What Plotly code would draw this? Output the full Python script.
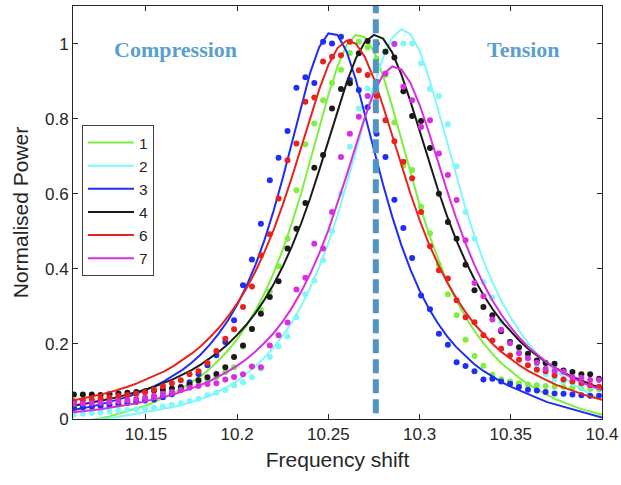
import plotly.graph_objects as go

# ---------------- data ----------------
freq_fit = [10.110, 10.115, 10.120, 10.125, 10.130, 10.135, 10.140, 10.145, 10.150, 10.155,
            10.160, 10.165, 10.170, 10.175, 10.180, 10.185, 10.190, 10.195, 10.200, 10.205,
            10.210, 10.215, 10.220, 10.225, 10.230, 10.235, 10.240, 10.245, 10.250, 10.255,
            10.260, 10.265, 10.270, 10.275, 10.280, 10.285, 10.290, 10.295, 10.300, 10.305,
            10.310, 10.315, 10.320, 10.325, 10.330, 10.335, 10.340, 10.345, 10.350, 10.355,
            10.360, 10.365, 10.370, 10.375, 10.380, 10.385, 10.390, 10.395, 10.400]

freq_data = [10.1105, 10.1154, 10.1203, 10.1251, 10.1300, 10.1349, 10.1398, 10.1447, 10.1495, 10.1544,
             10.1593, 10.1642, 10.1691, 10.1739, 10.1788, 10.1837, 10.1886, 10.1935, 10.1983, 10.2032,
             10.2081, 10.2130, 10.2179, 10.2227, 10.2276, 10.2325, 10.2374, 10.2423, 10.2471, 10.2520,
             10.2569, 10.2618, 10.2667, 10.2715, 10.2764, 10.2813, 10.2862, 10.2911, 10.2959, 10.3008,
             10.3057, 10.3106, 10.3155, 10.3203, 10.3252, 10.3301, 10.3350, 10.3399, 10.3447, 10.3496,
             10.3545, 10.3594, 10.3643, 10.3691, 10.3740, 10.3789, 10.3838, 10.3887, 10.3935, 10.3984]

fit_1 = [-0.012, -0.008, -0.003, 0.002, 0.007, 0.014, 0.020, 0.028, 0.036, 0.046,
         0.056, 0.068, 0.082, 0.097, 0.114, 0.134, 0.157, 0.183, 0.213, 0.248,
         0.288, 0.335, 0.389, 0.451, 0.522, 0.600, 0.686, 0.776, 0.863, 0.939,
         0.996, 1.023, 1.017, 0.978, 0.914, 0.832, 0.743, 0.655, 0.571, 0.495,
         0.428, 0.368, 0.317, 0.273, 0.235, 0.202, 0.173, 0.148, 0.127, 0.108,
         0.091, 0.077, 0.064, 0.052, 0.042, 0.033, 0.025, 0.018, 0.011]
data_1 = [0.030, 0.031, 0.032, 0.034, 0.036, 0.038, 0.041, 0.045, 0.050, 0.056,
          0.063, 0.070, 0.078, 0.087, 0.097, 0.104, 0.111, 0.125, 0.138, 0.193,
          0.240, 0.291, 0.340, 0.407, 0.480, 0.609, 0.732, 0.787, 0.849, 0.895,
          0.930, 0.975, 1.005, 0.990, 0.960, 0.916, 0.790, 0.676, 0.663, 0.565,
          0.495, 0.410, 0.332, 0.276, 0.211, 0.168, 0.142, 0.118, 0.106, 0.100,
          0.095, 0.092, 0.090, 0.088, 0.086, 0.085, 0.083, 0.082, 0.080, 0.079]

fit_2 = [-0.010, -0.007, -0.004, 0.000, 0.003, 0.006, 0.010, 0.014, 0.018, 0.022,
         0.027, 0.032, 0.038, 0.045, 0.053, 0.062, 0.073, 0.086, 0.102, 0.120,
         0.140, 0.164, 0.191, 0.222, 0.258, 0.300, 0.349, 0.405, 0.469, 0.542,
         0.624, 0.711, 0.802, 0.889, 0.963, 1.016, 1.038, 1.025, 0.981, 0.911,
         0.827, 0.737, 0.648, 0.564, 0.489, 0.422, 0.364, 0.313, 0.270, 0.232,
         0.199, 0.171, 0.147, 0.126, 0.107, 0.090, 0.076, 0.063, 0.052]
data_2 = [0.012, 0.014, 0.016, 0.018, 0.020, 0.022, 0.024, 0.026, 0.028, 0.030,
          0.033, 0.037, 0.042, 0.048, 0.054, 0.063, 0.070, 0.077, 0.089, 0.098,
          0.111, 0.134, 0.165, 0.193, 0.220, 0.271, 0.332, 0.369, 0.423, 0.500,
          0.600, 0.725, 0.827, 0.880, 0.930, 0.980, 1.000, 1.000, 1.000, 0.947,
          0.879, 0.860, 0.785, 0.673, 0.551, 0.480, 0.365, 0.323, 0.260, 0.205,
          0.180, 0.165, 0.140, 0.120, 0.105, 0.100, 0.095, 0.090, 0.087, 0.085]

fit_3 = [0.024, 0.028, 0.033, 0.039, 0.045, 0.052, 0.059, 0.068, 0.077, 0.088,
         0.101, 0.115, 0.131, 0.150, 0.172, 0.198, 0.228, 0.263, 0.304, 0.353,
         0.410, 0.477, 0.555, 0.642, 0.737, 0.833, 0.922, 0.991, 1.027, 1.023,
         0.979, 0.905, 0.814, 0.717, 0.624, 0.539, 0.463, 0.398, 0.342, 0.295,
         0.255, 0.221, 0.192, 0.168, 0.146, 0.128, 0.112, 0.098, 0.086, 0.075,
         0.064, 0.055, 0.045, 0.038, 0.031, 0.024, 0.017, 0.010, 0.004]
data_3 = [0.030, 0.031, 0.033, 0.035, 0.037, 0.040, 0.043, 0.046, 0.049, 0.052,
          0.058, 0.066, 0.078, 0.098, 0.120, 0.143, 0.170, 0.205, 0.263, 0.356,
          0.425, 0.520, 0.636, 0.696, 0.767, 0.882, 0.910, 0.895, 1.005, 1.000,
          1.018, 0.903, 0.876, 0.830, 0.760, 0.698, 0.584, 0.509, 0.429, 0.329,
          0.292, 0.227, 0.198, 0.151, 0.141, 0.127, 0.105, 0.107, 0.100, 0.094,
          0.085, 0.078, 0.076, 0.072, 0.068, 0.067, 0.065, 0.063, 0.062, 0.062]

fit_4 = [0.036, 0.039, 0.044, 0.048, 0.053, 0.059, 0.065, 0.071, 0.079, 0.087,
         0.096, 0.106, 0.118, 0.130, 0.145, 0.161, 0.179, 0.200, 0.224, 0.251,
         0.282, 0.318, 0.359, 0.406, 0.460, 0.520, 0.588, 0.663, 0.741, 0.821,
         0.896, 0.960, 1.004, 1.023, 1.013, 0.976, 0.918, 0.846, 0.767, 0.688,
         0.612, 0.541, 0.478, 0.422, 0.373, 0.330, 0.293, 0.260, 0.232, 0.207,
         0.185, 0.166, 0.149, 0.135, 0.121, 0.110, 0.099, 0.090, 0.081]
data_4 = [0.065, 0.065, 0.065, 0.064, 0.066, 0.068, 0.070, 0.072, 0.074, 0.076,
          0.078, 0.081, 0.085, 0.092, 0.103, 0.111, 0.120, 0.138, 0.165, 0.196,
          0.240, 0.280, 0.325, 0.367, 0.454, 0.507, 0.575, 0.669, 0.703, 0.827,
          0.879, 0.894, 0.974, 1.007, 1.000, 0.978, 0.963, 0.873, 0.807, 0.794,
          0.722, 0.600, 0.525, 0.480, 0.411, 0.343, 0.298, 0.276, 0.234, 0.205,
          0.191, 0.174, 0.156, 0.149, 0.147, 0.129, 0.125, 0.119, 0.119, 0.107]

fit_6 = [0.049, 0.054, 0.059, 0.065, 0.071, 0.078, 0.086, 0.095, 0.105, 0.115,
         0.127, 0.141, 0.157, 0.174, 0.194, 0.217, 0.243, 0.273, 0.308, 0.347,
         0.393, 0.445, 0.504, 0.571, 0.644, 0.723, 0.802, 0.878, 0.943, 0.988,
         1.008, 1.000, 0.964, 0.906, 0.833, 0.755, 0.675, 0.600, 0.530, 0.468,
         0.413, 0.365, 0.323, 0.286, 0.253, 0.225, 0.200, 0.178, 0.159, 0.142,
         0.127, 0.114, 0.102, 0.091, 0.082, 0.073, 0.065, 0.058, 0.051]
data_6 = [0.047, 0.050, 0.052, 0.055, 0.058, 0.061, 0.064, 0.067, 0.071, 0.078,
          0.087, 0.095, 0.103, 0.119, 0.127, 0.149, 0.181, 0.214, 0.239, 0.298,
          0.353, 0.436, 0.492, 0.587, 0.689, 0.734, 0.845, 0.856, 0.952, 0.965,
          0.969, 1.005, 0.929, 0.916, 0.860, 0.796, 0.740, 0.685, 0.641, 0.551,
          0.460, 0.396, 0.374, 0.316, 0.271, 0.258, 0.223, 0.209, 0.187, 0.169,
          0.158, 0.143, 0.131, 0.127, 0.116, 0.105, 0.100, 0.095, 0.090, 0.086]

fit_7 = [0.018, 0.020, 0.023, 0.026, 0.030, 0.033, 0.038, 0.042, 0.047, 0.053,
         0.059, 0.065, 0.073, 0.081, 0.091, 0.101, 0.113, 0.127, 0.142, 0.159,
         0.180, 0.203, 0.229, 0.260, 0.296, 0.338, 0.386, 0.441, 0.503, 0.573,
         0.649, 0.727, 0.803, 0.870, 0.917, 0.939, 0.931, 0.895, 0.837, 0.765,
         0.686, 0.609, 0.536, 0.470, 0.411, 0.360, 0.315, 0.277, 0.244, 0.215,
         0.190, 0.169, 0.150, 0.134, 0.119, 0.107, 0.095, 0.086, 0.077]
data_7 = [0.040, 0.041, 0.042, 0.043, 0.045, 0.047, 0.050, 0.053, 0.057, 0.062,
          0.067, 0.072, 0.077, 0.083, 0.088, 0.093, 0.095, 0.105, 0.112, 0.119,
          0.140, 0.138, 0.196, 0.223, 0.257, 0.345, 0.376, 0.467, 0.454, 0.551,
          0.698, 0.760, 0.805, 0.860, 0.898, 0.920, 0.999, 0.885, 0.849, 0.778,
          0.796, 0.707, 0.650, 0.583, 0.476, 0.362, 0.327, 0.265, 0.238, 0.202,
          0.175, 0.162, 0.150, 0.134, 0.128, 0.126, 0.111, 0.110, 0.104, 0.104]

series_names = ["1", "2", "3", "4", "6", "7"]
series_colors = ["#7cf03c", "#80f8f8", "#1f2df5", "#1a1a1a", "#e8231f", "#d82ee0"]
series_fits = [fit_1, fit_2, fit_3, fit_4, fit_6, fit_7]
series_data = [data_1, data_2, data_3, data_4, data_6, data_7]

boundary_freq = 10.276
x_tick_vals = [10.15, 10.2, 10.25, 10.3, 10.35, 10.4]
x_tick_text = ["10.15", "10.2", "10.25", "10.3", "10.35", "10.4"]
y_tick_vals = [0, 0.2, 0.4, 0.6, 0.8, 1]
y_tick_text = ["0", "0.2", "0.4", "0.6", "0.8", "1"]

# ---------------- figure ----------------
fig = go.Figure()
for name, color, fit, dat in zip(series_names, series_colors, series_fits, series_data):
    fig.add_trace(go.Scatter(x=freq_data, y=dat, mode="markers",
                             marker=dict(color=color, size=6, line=dict(width=0)),
                             showlegend=False, legendgroup=name, hoverinfo="skip"))
    fig.add_trace(go.Scatter(x=freq_fit, y=fit, mode="lines",
                             line=dict(color=color, width=2),
                             name=name, legendgroup=name))

fig.add_shape(type="line", xref="x", yref="y",
              x0=boundary_freq, x1=boundary_freq, y0=0.015, y1=1.1,
              line=dict(color="#4f94c4", width=6, dash="14px,6px"), layer="above")

axis_font = dict(family="Liberation Sans, Arial, sans-serif", size=17, color="#262626")
fig.update_layout(
    width=621, height=485,
    margin=dict(l=73, r=19, t=6, b=66, autoexpand=False),
    paper_bgcolor="white", plot_bgcolor="white",
    font=dict(family="Liberation Sans, Arial, sans-serif", color="#262626"),
    xaxis=dict(range=[10.11, 10.4], tickvals=x_tick_vals, ticktext=x_tick_text,
               ticks="inside", ticklen=5, tickcolor="#262626", mirror="allticks",
               showline=True, linecolor="#262626", linewidth=1, automargin=False,
               showgrid=False, zeroline=False, tickfont=axis_font,
               title=dict(text="Frequency shift", font=dict(size=21, color="#262626"), standoff=8)),
    yaxis=dict(range=[0, 1.1], tickvals=y_tick_vals, ticktext=y_tick_text,
               ticks="inside", ticklen=5, tickcolor="#262626", mirror="allticks",
               showline=True, linecolor="#262626", linewidth=1, automargin=False,
               showgrid=False, zeroline=False, tickfont=axis_font,
               title=dict(text="Normalised Power", font=dict(size=21, color="#262626"), standoff=10)),
    legend=dict(x=0.017, y=0.712, xanchor="left", yanchor="top",
                bgcolor="white", bordercolor="#404040", borderwidth=1,
                font=dict(size=15.5, color="#262626"), itemwidth=46,
                traceorder="normal", tracegroupgap=0),
    showlegend=True,
)

title_font = dict(family="Liberation Serif, Times New Roman, serif", size=22, color="#5b9fcd")
fig.add_annotation(x=10.166, y=0.983, xref="x", yref="y", text="<b>Compression</b>",
                   showarrow=False, font=title_font)
fig.add_annotation(x=10.357, y=0.983, xref="x", yref="y", text="<b>Tension</b>",
                   showarrow=False, font=title_font)

fig.write_html("out.html", config={"displayModeBar": False},
               post_script="document.body.style.margin='0px';document.body.style.overflow='hidden';")
